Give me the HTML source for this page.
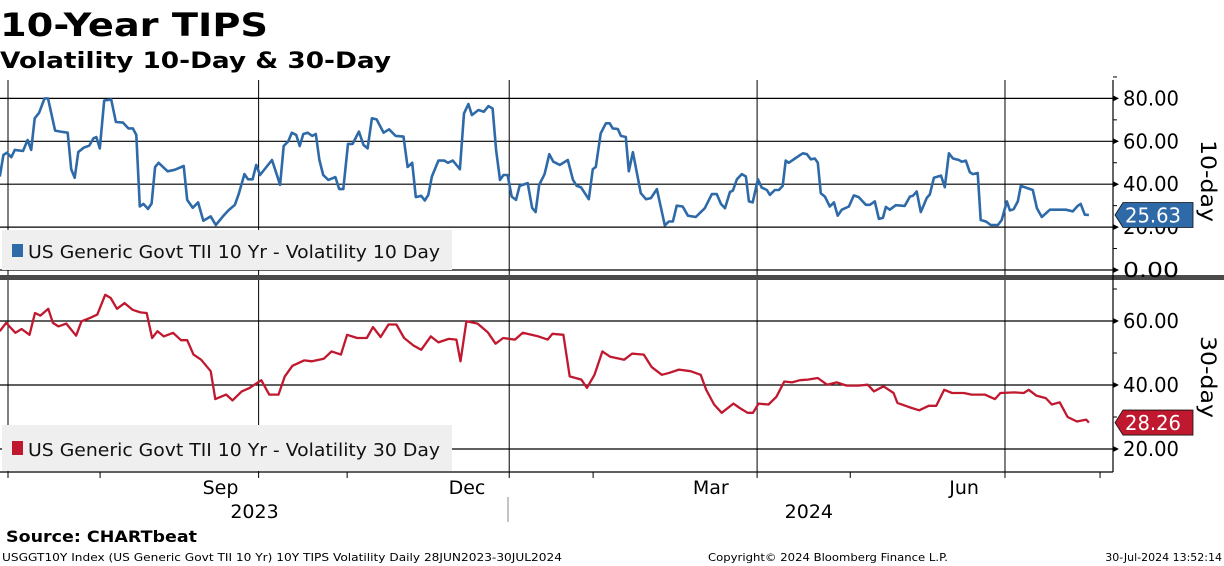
<!DOCTYPE html>
<html><head><meta charset="utf-8"><style>
body{margin:0;background:#fff;width:1224px;height:566px;overflow:hidden;font-family:"DejaVu Sans",sans-serif}
svg{position:absolute;left:0;top:0}
text{font-family:"DejaVu Sans","Liberation Sans",sans-serif}
</style></head><body>
<svg id="chart" width="1224" height="566" xmlns="http://www.w3.org/2000/svg">
<text x="0" y="36" font-size="32" font-weight="bold" textLength="268" lengthAdjust="spacingAndGlyphs">10-Year TIPS</text>
<text x="0" y="68" font-size="22" font-weight="bold" textLength="391" lengthAdjust="spacingAndGlyphs">Volatility 10-Day &amp; 30-Day</text>
<g id="grid"></g>
<rect x="0" y="275" width="1224" height="5" fill="#4a4a4a"/>
<g id="series"></g>
<g id="axes"></g>
<rect x="2" y="230" width="450" height="40" fill="#efefef"/>
<rect x="12" y="244" width="11" height="13" fill="#2e6aa8"/>
<text x="28" y="258" font-size="18" fill="#111" textLength="412" lengthAdjust="spacingAndGlyphs">US Generic Govt TII 10 Yr - Volatility 10 Day</text>
<rect x="2" y="425" width="450" height="46" fill="#efefef"/>
<rect x="12" y="441" width="11" height="14" fill="#c0182f"/>
<text x="28" y="456" font-size="18" fill="#111" textLength="412" lengthAdjust="spacingAndGlyphs">US Generic Govt TII 10 Yr - Volatility 30 Day</text>
<text transform="translate(1201,140) rotate(90)" font-size="21" textLength="82" lengthAdjust="spacingAndGlyphs">10-day</text>
<text transform="translate(1201,336) rotate(90)" font-size="21" textLength="82" lengthAdjust="spacingAndGlyphs">30-day</text>
<text x="6" y="542" font-size="16" font-weight="bold" textLength="191" lengthAdjust="spacingAndGlyphs">Source: CHARTbeat</text>
<text x="2" y="561" font-size="11" textLength="560" lengthAdjust="spacingAndGlyphs">USGGT10Y Index (US Generic Govt TII 10 Yr) 10Y TIPS Volatility  Daily 28JUN2023-30JUL2024</text>
<text x="708" y="561" font-size="11" textLength="240" lengthAdjust="spacingAndGlyphs">Copyright© 2024 Bloomberg Finance L.P.</text>
<text x="1222" y="561" font-size="11" text-anchor="end">30-Jul-2024 13:52:14</text>
</svg>
<script>
const days10=[0,1.3,2.6,4.2,5.5,8.5,10.2,11.5,12.8,14.4,16.4,17.7,20.3,22.3,24.9,26.2,27.5,28.8,30.8,32.8,34.4,35.4,36.7,38.3,40.9,42.6,45.2,47.2,48.8,50.1,51.4,52.7,54.4,55.7,57,58.3,61.6,64.2,67.5,68.8,70.8,72.8,74.7,77.4,79.3,81.9,83.9,86.3,87.8,89.8,91.1,92.8,94.1,95.5,99.9,102.9,104.2,105.9,107.2,108.8,110.1,111.4,113,114.7,116,117.3,118.7,120.6,123.2,124.6,126.1,127.8,129.5,131.8,133.5,135,136.6,138.3,140.9,142.9,145.3,148.2,149.7,151.4,152.7,154.7,156,157.3,158.6,161,163.2,164.5,166.3,168.9,170.4,172,173.3,175.7,177.7,179.4,180.9,182.2,183.6,184.9,186.4,187.9,189.5,190.8,193.8,195.4,196.7,198,200,201.7,203.2,205.6,208.5,210.4,211.8,213.3,216.2,217.7,218.8,220.6,222.5,223.9,225,226.9,228,229.8,230.9,232.4,235.3,237.2,239,241.2,244.1,245.6,247.1,248.5,250.7,252.6,255.5,258.8,261.4,263.2,264.7,266.2,268,269.1,270.6,272.4,273.9,275,276.4,278.3,279.7,281.6,282.7,284.5,286,287.4,288.5,289.6,291.9,293.3,294.8,296.3,297.7,299.2,300.3,301.4,302.9,304.7,306.2,307.6,309.1,311.7,313.5,315.3,317.9,319.4,321.2,322.7,324.2,325.3,326.7,328.9,332.2,334.1,335.2,336.6,338.1,340.3,341.4,342.9,345.5,346.9,348.4,349.9,352.1,353.2,354.6,356.1,357.2,359,360.1,362,363.8,366.4,367.8,369.7,370.8,372.2,373.7,374.8,379.2,380.7,382.5,385.5,391.3,393.9,395.7,396.8,398.3,399.8];
const vol10=[43.6,53.6,54.7,52.6,56,55.5,60.6,56,70.7,73.3,80,80,65,64.5,64,47,43,55,57,58,61.4,62,56.7,79,79.5,69,68.7,66,66,63,29.6,30.8,28.5,31,48,50,46,46.7,48.5,32.7,29,31.5,23,25,21,25,27.8,30.4,35.8,44.7,42.3,42.3,49,44.3,51.3,39.7,57.8,60,64,63,57.8,63.4,64,62.5,63.4,51.3,44.3,42,43.3,37.7,37.7,58.8,58.8,64.5,58.3,56.7,70.7,70.2,64,65.6,62.5,62.2,48,50,34,34.6,32.4,35,43.6,51,51,50,51,47,73,77.4,72.2,74.6,73.8,76.4,75.3,56,42,44.3,44.3,34.2,32.7,39.2,40.5,29,27,39.7,44.7,54,50.5,49,51.3,42,39.2,38.6,33,47,48,63.7,68.4,68.4,66,65.7,62.5,62,46,54.9,35.8,33,33.5,37.7,20.8,22.6,22.6,30,29.6,25.3,24.7,28.8,35.4,35.4,30.8,28.8,36.3,37,42.3,44.7,43.6,32,31.5,42.3,38.4,37.3,35,37.3,37.3,39.2,51,50,52,53.2,54.4,54,51.6,52,50,35.8,34.2,29.6,31.5,25.3,28.1,29.6,34.8,34,30.4,30.4,32,23.8,24.3,29.4,28.1,30.2,29.9,34.2,34.6,36.6,27,33.6,35.2,43,44,38.6,54.4,52,51.3,50.5,51,45.6,44.7,45.2,23.3,22.6,21,21,23.3,32,27.8,28.4,32,39.2,37.3,28.8,24.7,28.1,28.1,27.3,29.9,30.8,25.8,25.63];
const days30=[0,2.3,5.7,8,10.9,12.9,14.9,17.8,19.5,21.5,24.4,28,30,33,35.8,38.7,40.7,43,45.8,48.7,51.6,53.9,55.9,57.9,60.2,63.6,66.5,68.8,71.1,73.9,77.4,79.1,83.1,85.4,88.8,91.7,96,98.9,102.3,104.6,107.4,111.7,114.6,118.9,121.8,125.2,127.5,131.2,134.7,137,139.8,142.7,145.6,148.4,151.9,154.7,158.2,161,164.8,167.6,169.1,171.3,175.4,179.1,182,184.8,189.1,192,197.7,201.1,202.9,206.9,209.2,213.5,215.5,218.3,221.2,224.1,229.2,232.1,236.4,239.3,243,245.8,249.3,253.6,257.3,259.3,262.2,265,269.3,271.6,274.5,276.5,278.5,282.2,285.1,288,290.8,293.7,296.6,300.3,303.7,307.2,310.9,315.2,318.6,320.9,324.4,328.1,329.5,333.8,337.5,341,343.8,346.7,349.6,353.9,356.7,361.6,365.3,367.3,372.5,375.9,377.7,380.5,384,386.2,389.1,392,395.4,398.8,399.8];
const vol30=[56.8,59.4,56.3,57.5,55.7,62.5,61.7,63.8,59.4,58.3,59.2,55.4,59.9,60.9,62,68.2,67.2,63.8,65.6,63.5,62.7,62.5,54.7,56.8,55.2,56.3,54,54,49.5,47.9,44.3,35.6,37,35.2,38,39.1,41.5,37,37,42.7,46,47.7,47.4,48.2,50.5,49.5,55.7,54.7,54.7,58.1,55,58.9,58.9,54.7,52.3,51,55.2,53.3,54.4,54.2,47.4,59.9,59.2,56.5,52.9,54.7,54.2,56.3,55.2,54.2,56,55.7,42.7,41.7,39.1,43.2,50.5,48.8,47.9,49.8,49.5,45.6,43.2,43.8,44.8,44.3,43.2,38.5,33.9,31.3,34.2,32.8,31.3,31.3,34.2,33.9,36.3,41.1,40.8,41.5,41.7,42.2,40.1,40.8,39.8,39.8,40.1,38,39.6,37.5,34.4,33.1,32.1,33.5,33.5,38.5,37.5,37.5,37,37,35.6,37.5,37.7,37.5,38.5,36.7,35.9,33.9,34.6,30,28.6,29.2,28.26];
const ticks10=[0,20,40,60,80];
const ticks30=[20,40,60];
const monthLabels=["Sep","Dec","Mar","Jun"];
const monthLabelDays=[81,171.5,261,354];
const yearLabels=["2023","2024"];
const yearLabelDays=[93.5,297];
const quarterDays=[3,95,187,278,369];
const minorTickDays=[36.8,127.5,217.8,312.2,403.9];

const NS="http://www.w3.org/2000/svg";
const xS=d=>8+(d-3)*2.724;
const y10=v=>270-2.145*v;
const y30=v=>449-3.2*(v-20);
const AX=1113;
function mk(tag,attrs,parent){const e=document.createElementNS(NS,tag);for(const k in attrs)e.setAttribute(k,attrs[k]);parent.appendChild(e);return e;}
const grid=document.getElementById('grid'),axes=document.getElementById('axes'),ser=document.getElementById('series');

ticks10.forEach(t=>{const y=y10(t);
 const l=mk('line',{x1:0,x2:AX,y1:y,y2:y,stroke:'#000','stroke-width':1.2},grid);
 
 
 const tx=mk('text',{x:1123,y:y+7,'font-size':20,textLength:56,lengthAdjust:'spacingAndGlyphs'},axes);tx.textContent=t.toFixed(2);
 
 
 mk('path',{d:`M${AX} ${y-3}L${AX+6} ${y}L${AX} ${y+3}Z`,fill:'#000'},axes);
 mk('line',{x1:AX,x2:AX+4,y1:y10(t+10),y2:y10(t+10),stroke:'#000'},axes);
});
ticks30.forEach(t=>{const y=y30(t);
 const l=mk('line',{x1:0,x2:AX,y1:y,y2:y,stroke:'#000','stroke-width':1.2},grid);
 
 
 const tx=mk('text',{x:1123,y:y+7,'font-size':20,textLength:56,lengthAdjust:'spacingAndGlyphs'},axes);tx.textContent=t.toFixed(2);
 
 
 mk('path',{d:`M${AX} ${y-3}L${AX+6} ${y}L${AX} ${y+3}Z`,fill:'#000'},axes);
 mk('line',{x1:AX,x2:AX+4,y1:y30(t+10),y2:y30(t+10),stroke:'#000'},axes);
});
quarterDays.forEach(d=>{const x=xS(d);
 const l=mk('line',{x1:x,x2:x,y1:80,y2:478,stroke:'#000','stroke-width':1},grid);
 
 });
minorTickDays.forEach(d=>{const x=xS(d);mk('line',{x1:x,x2:x,y1:472,y2:478,stroke:'#000'},axes);});
mk('line',{x1:AX,x2:AX,y1:80,y2:472,stroke:'#000','stroke-width':1.2},axes);
mk('line',{x1:0,x2:AX,y1:472,y2:472,stroke:'#000','stroke-width':1.2},axes);
mk('line',{x1:508,x2:508,y1:497,y2:522,stroke:'#888'},axes);
monthLabels.forEach((m,i)=>{const t=mk('text',{x:xS(monthLabelDays[i]),y:494,'font-size':19,'text-anchor':'middle'},axes);t.textContent=m;
 
 });
yearLabels.forEach((m,i)=>{const t=mk('text',{x:xS(yearLabelDays[i]),y:518,'font-size':19,'text-anchor':'middle'},axes);t.textContent=m;
 
 });

const p1=mk('polyline',{points:days10.map((d,i)=>xS(d).toFixed(1)+','+y10(vol10[i]).toFixed(1)).join(' '),fill:'none',stroke:'#2e6aa8','stroke-width':2.6,'stroke-linejoin':'round'},ser);


const p2=mk('polyline',{points:days30.map((d,i)=>xS(d).toFixed(1)+','+y30(vol30[i]).toFixed(1)).join(' '),fill:'none',stroke:'#c0182f','stroke-width':2.3,'stroke-linejoin':'round'},ser);



function tag(v,yc,color,name){
 const g=mk('g',{},axes);
 
 
 mk('path',{d:`M1115 ${yc}L1123 ${yc-12.5}L1193 ${yc-12.5}L1193 ${yc+12.5}L1123 ${yc+12.5}Z`,fill:color,stroke:'#111','stroke-width':0.8},g);
 const t=mk('text',{x:1125,y:yc+7.5,'font-size':20,fill:'#fff',textLength:56,lengthAdjust:'spacingAndGlyphs'},g);t.textContent=v.toFixed(2);
}
tag(vol10[vol10.length-1],y10(vol10[vol10.length-1]),'#2e6aa8','last-value-tag-10day');
tag(vol30[vol30.length-1],y30(vol30[vol30.length-1]),'#c0182f','last-value-tag-30day');
</script>
</body></html>
